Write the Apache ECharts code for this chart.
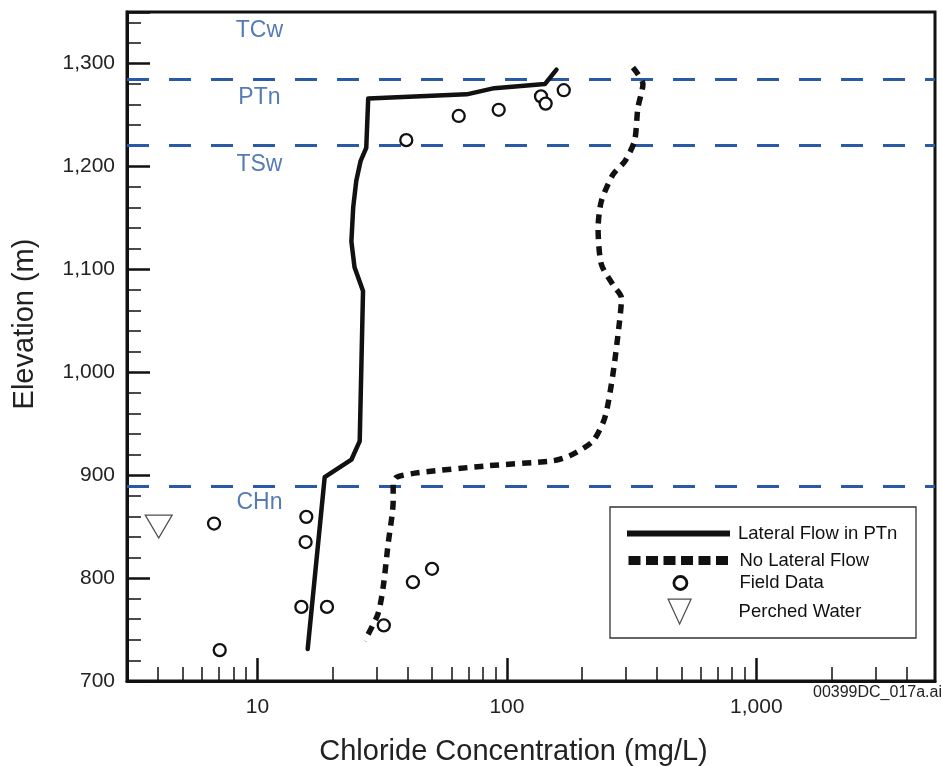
<!DOCTYPE html>
<html><head><meta charset="utf-8">
<script src="https://cdn.jsdelivr.net/npm/echarts@6/dist/echarts.min.js"></script>
<style>html,body{margin:0;padding:0;background:#fff}#c{width:942px;height:766px}</style>
</head><body><div id="c"></div>
<script>
// ---- data ----
const lateralConc = [158, 142, 89, 69, 27.8, 27.3, 25.9, 24.9, 24.2, 23.8, 24.5, 26.5, 25.7, 23.8, 18.6, 15.9];
const lateralElev = [1294, 1280, 1276, 1270, 1266, 1218, 1205, 1186, 1160, 1127, 1102, 1079, 933, 915, 898, 731];

const noLateralConc = [320, 351, 335, 325, 297, 266, 239, 232, 239, 266, 288, 283, 266, 247, 221, 179, 153, 82.8, 44.7, 36.1, 35.0, 35.0, 33.4, 31.9, 30.4, 26.9];
const noLateralElev = [1296, 1280, 1257, 1225, 1205, 1192, 1166, 1140, 1105, 1085, 1072, 1050, 998, 956, 933, 919, 914, 909, 902.5, 898, 891, 875, 833, 791, 765, 739];

const fieldConc = [39.5, 64.1, 92.7, 137, 143, 169, 6.7, 15.7, 15.6, 15.0, 19.0, 7.06, 32.1, 42.0, 50.1];
const fieldElev = [1225.5, 1249, 1255, 1268, 1261, 1274, 853, 859.5, 835, 772, 772, 730, 754, 796, 809];

const perchedConc = [4.02];
const perchedElev = [850];

const unitBoundaries = [1285, 1221, 889];
const unitNames = ['TCw', 'PTn', 'TSw', 'CHn'];
const unitLabelElev = [1332, 1267, 1202, 873];
const unitLabelConc = [10, 10, 10, 10];

const xMajorTicks = [10, 100, 1000];
const xMinorTicks = [4, 5, 6, 7, 8, 9, 20, 30, 40, 50, 60, 70, 80, 90, 200, 300, 400, 500, 600, 700, 800, 900, 2000, 3000, 4000];
const seriesNames = ['Lateral Flow in PTn', 'No Lateral Flow', 'Field Data', 'Perched Water'];

// ---- build ----
const zip = (a, b) => a.map((v, i) => [v, b[i]]);
const fmt = v => Number(v).toLocaleString('en-US');
const FONT = 'Liberation Sans, Arial, sans-serif';
const BLUE = '#2a5aa3';
const INK = '#111';

function legendRow(item, left, top, w, h, padLeft) {
  return {
    data: [item], orient: 'vertical', left: left, top: top, z: 6,
    itemWidth: w, itemHeight: h, padding: 0, selectedMode: false,
    textStyle: {fontSize: 18.5, lineHeight: h, color: INK, fontFamily: FONT, padding: [0, 0, 0, padLeft]}
  };
}

const chart = echarts.init(document.getElementById('c'), null, {renderer: 'canvas'});
chart.setOption({
  animation: false,
  backgroundColor: '#fff',
  textStyle: {fontFamily: FONT},
  grid: {left: 127, right: 7, top: 12, bottom: 85, containLabel: false, outerBoundsMode: 'none',
         show: true, borderColor: INK, borderWidth: 3, backgroundColor: 'transparent'},
  xAxis: [{
    type: 'log', logBase: 10, min: 3, max: 5200, position: 'bottom',
    name: 'Chloride Concentration (mg/L)', nameLocation: 'middle', nameGap: 56,
    nameTextStyle: {fontSize: 29, color: '#222', fontFamily: FONT, padding: [0, 35, 0, 0]},
    axisLine: {show: true, lineStyle: {color: INK, width: 3}},
    axisTick: {show: true, inside: true, length: 23, customValues: xMajorTicks, lineStyle: {color: INK, width: 2.5}},
    axisLabel: {show: true, customValues: xMajorTicks, formatter: fmt, fontSize: 21, color: '#222', margin: 16, fontFamily: FONT},
    splitLine: {show: false}, minorTick: {show: false}
  }, {
    type: 'log', logBase: 10, min: 3, max: 5200, position: 'bottom',
    axisLine: {show: false},
    axisTick: {show: true, inside: true, length: 14, customValues: xMinorTicks, lineStyle: {color: INK, width: 1.5}},
    axisLabel: {show: false, customValues: xMinorTicks},
    splitLine: {show: false}
  }],
  yAxis: [{
    type: 'value', min: 700, max: 1350, interval: 100,
    name: 'Elevation (m)', nameLocation: 'middle', nameGap: 88,
    nameTextStyle: {fontSize: 29, color: '#222', fontFamily: FONT, padding: [0, 0, 0, 45]},
    axisLine: {show: true, lineStyle: {color: INK, width: 3}},
    axisTick: {show: true, inside: true, length: 23, lineStyle: {color: INK, width: 2.5}},
    minorTick: {show: true, splitNumber: 5, length: 14, lineStyle: {color: INK, width: 1.5}},
    axisLabel: {formatter: fmt, fontSize: 21, color: '#222', margin: 12, fontFamily: FONT, showMaxLabel: false},
    splitLine: {show: false}
  }],
  legend: [
    legendRow({name: seriesNames[0], itemStyle: {opacity: 0}, lineStyle: {width: 6, color: INK, type: 'solid', cap: 'butt'}}, 624, 524, 103, 12, 3),
    legendRow({name: seriesNames[1], itemStyle: {opacity: 0}, lineStyle: {width: 9, color: INK, type: [12, 5.5], cap: 'butt'}}, 624, 551, 103, 12, 3),
    legendRow({name: seriesNames[2], icon: 'circle', itemStyle: {color: '#fff', borderColor: INK, borderWidth: 2.8}}, 672.5, 573.5, 13, 13, 47.5),
    legendRow({name: seriesNames[3], icon: 'path://M0,0L23,0L11.5,25Z', itemStyle: {color: '#fff', borderColor: '#222', borderWidth: 1.2}}, 667.5, 598.5, 23, 25, 42.5)
  ],
  graphic: [
    {type: 'rect', z: 3, shape: {x: 610, y: 507, width: 306, height: 131},
     style: {fill: '#fff', stroke: '#333', lineWidth: 1.3}},
    {type: 'text', z: 3, right: 0, top: 685,
     style: {text: '00399DC_017a.ai', font: '16px Liberation Sans, Arial, sans-serif', fill: '#222'}}
  ],
  series: [
    {
      name: seriesNames[0], type: 'line', xAxisIndex: 0, yAxisIndex: 0,
      data: zip(lateralConc, lateralElev), symbol: 'none', z: 4,
      lineStyle: {color: INK, width: 4.5, join: 'round', cap: 'round'},
      itemStyle: {color: INK},
      markLine: {
        silent: true, symbol: ['none', 'none'], label: {show: false}, z: 2,
        lineStyle: {color: BLUE, width: 3, type: [22, 20]},
        data: unitBoundaries.map(v => ({yAxis: v}))
      }
    },
    {
      name: seriesNames[1], type: 'line', xAxisIndex: 0, yAxisIndex: 0,
      data: zip(noLateralConc, noLateralElev), symbol: 'none', smooth: 0.25, z: 4,
      lineStyle: {color: INK, width: 5.5, type: [9, 7], cap: 'butt'},
      itemStyle: {color: INK}
    },
    {
      name: seriesNames[2], type: 'scatter', xAxisIndex: 0, yAxisIndex: 0,
      data: zip(fieldConc, fieldElev), symbol: 'circle', symbolSize: 12, z: 5,
      itemStyle: {color: '#fff', borderColor: INK, borderWidth: 2.3, opacity: 1}
    },
    {
      name: seriesNames[3], type: 'scatter', xAxisIndex: 0, yAxisIndex: 0,
      data: zip(perchedConc, perchedElev), symbol: 'triangle', symbolRotate: 180,
      symbolSize: [27, 23], z: 5,
      itemStyle: {color: '#fff', borderColor: '#222', borderWidth: 1.2}
    },
    {
      name: 'units', type: 'scatter', xAxisIndex: 0, yAxisIndex: 0, silent: true,
      data: unitLabelConc.map((v, i) => ({name: unitNames[i], value: [v, unitLabelElev[i]]})),
      symbolSize: 0, itemStyle: {color: 'transparent'}, z: 5,
      label: {show: true, position: 'inside', offset: [2, 0], formatter: p => p.name, color: BLUE, fontSize: 23, fontFamily: FONT}
    }
  ]
});
</script></body></html>
